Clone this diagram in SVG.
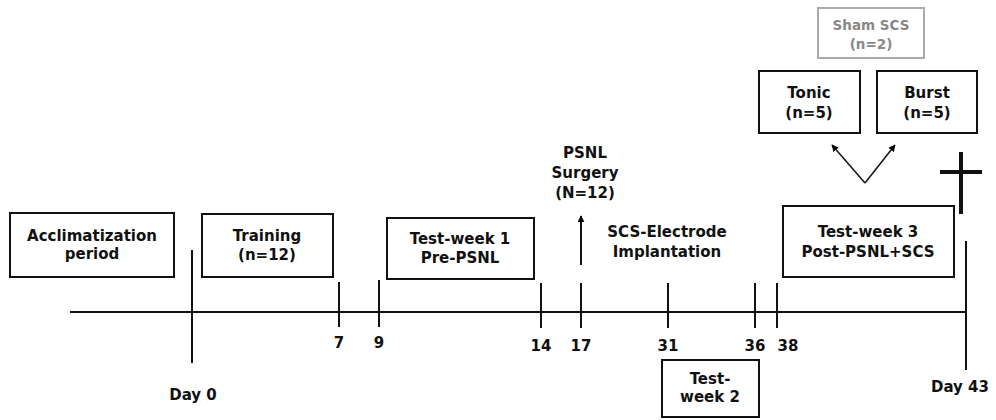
<svg xmlns="http://www.w3.org/2000/svg" width="996" height="420" viewBox="0 0 996 420">
<defs>
<marker id="ah" viewBox="0 0 10 10" refX="9" refY="5" markerWidth="7" markerHeight="7" markerUnits="userSpaceOnUse" orient="auto">
<path d="M0,0 L10,5 L0,10 z" fill="#000"/>
</marker>
<style>
text{font-family:"DejaVu Sans","Liberation Sans",sans-serif;font-weight:bold;font-size:15px;fill:#111;text-anchor:middle}
.box{fill:#fff;stroke:#111;stroke-width:2}
.gbox{fill:#fff;stroke:#aaa;stroke-width:2}
.gt{fill:#888;font-size:13.5px}
.ln{stroke:#111;stroke-width:2;fill:none}
</style>
</defs>
<rect width="996" height="420" fill="#fff"/>
<g id="connectors">
<line class="ln" x1="70" y1="312" x2="966" y2="312"/>
<line class="ln" x1="192" y1="250" x2="192" y2="363"/>
<line class="ln" x1="339" y1="282" x2="339" y2="327"/>
<line class="ln" x1="379" y1="280" x2="379" y2="327"/>
<line class="ln" x1="541" y1="283" x2="541" y2="328"/>
<line class="ln" x1="581" y1="283" x2="581" y2="328"/>
<line class="ln" x1="668" y1="283" x2="668" y2="328"/>
<line class="ln" x1="755" y1="283" x2="755" y2="328"/>
<line class="ln" x1="777" y1="283" x2="777" y2="328"/>
<line class="ln" x1="966" y1="241" x2="966" y2="370"/>
<line class="ln" x1="581" y1="265" x2="581" y2="216" marker-end="url(#ah)"/>
<line stroke="#111" stroke-width="1.5" x1="865" y1="183" x2="832" y2="145" marker-end="url(#ah)"/>
<line stroke="#111" stroke-width="1.5" x1="865" y1="183" x2="895" y2="145" marker-end="url(#ah)"/>
<line stroke="#111" stroke-width="4" x1="961" y1="152" x2="961" y2="214"/>
<line stroke="#111" stroke-width="4" x1="940" y1="172" x2="982" y2="172"/>
</g>
<g id="labels">
<text x="339" y="348">7</text>
<text x="379" y="348">9</text>
<text x="541" y="351">14</text>
<text x="581" y="351">17</text>
<text x="668" y="351">31</text>
<text x="755" y="351">36</text>
<text x="788" y="351">38</text>
<text x="193" y="400">Day 0</text>
<text x="960" y="392">Day 43</text>
<text x="585" y="158">PSNL</text>
<text x="585" y="178">Surgery</text>
<text x="585" y="198">(N=12)</text>
<text x="667" y="237">SCS-Electrode</text>
<text x="667" y="257">Implantation</text>
</g>
<g id="n-acclim"><rect class="box" x="10" y="213" width="164" height="64"/><text x="92" y="241">Acclimatization</text><text x="92" y="259">period</text></g>
<g id="n-training"><rect class="box" x="202" y="214" width="131" height="63"/><text x="267" y="241">Training</text><text x="267" y="260">(n=12)</text></g>
<g id="n-tw1"><rect class="box" x="387" y="218" width="147" height="61"/><text x="460" y="244">Test-week 1</text><text x="460" y="263">Pre-PSNL</text></g>
<g id="n-tw2"><rect class="box" x="662" y="360" width="97" height="57"/><text x="710" y="384">Test-</text><text x="710" y="402">week 2</text></g>
<g id="n-tw3"><rect class="box" x="783" y="206" width="171" height="71"/><text x="868" y="237">Test-week 3</text><text x="868" y="257">Post-PSNL+SCS</text></g>
<g id="n-tonic"><rect class="box" x="759" y="71" width="101" height="62"/><text x="809" y="98">Tonic</text><text x="809" y="118">(n=5)</text></g>
<g id="n-burst"><rect class="box" x="877" y="71" width="100" height="62"/><text x="927" y="98">Burst</text><text x="927" y="118">(n=5)</text></g>
<g id="n-sham"><rect class="gbox" x="818" y="8" width="106" height="50"/><text class="gt" x="871" y="30">Sham SCS</text><text class="gt" x="871" y="49">(n=2)</text></g>
</svg>
